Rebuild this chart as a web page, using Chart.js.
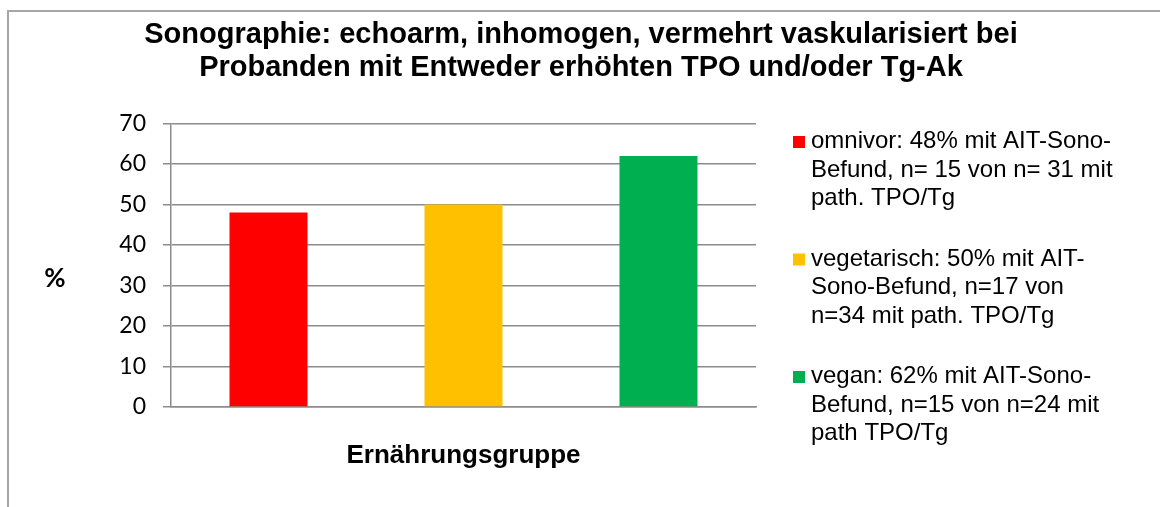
<!DOCTYPE html>
<html>
<head>
<meta charset="utf-8">
<script src="https://cdn.jsdelivr.net/npm/chart.js@4/dist/chart.umd.min.js"></script>
<style>
  html, body { margin: 0; padding: 0; background: #fff; }
  #wrap { position: relative; width: 1160px; height: 507px; overflow: hidden; }
  #frame { position: absolute; left: 7px; top: 10px; width: 1200px; height: 600px;
           border-left: 2px solid #a6a6a6; border-top: 2px solid #a6a6a6; }
  #chart { position: absolute; left: 0; top: 0; }
</style>
</head>
<body>
<div id="wrap">
  <div id="frame"></div>
  <canvas id="chart" width="1160" height="507"></canvas>
</div>
<script>
// DATA
const groups = ['omnivor', 'vegetarisch', 'vegan'];
const percents = [48, 50, 62];
const barColors = ['#ff0000', '#ffc000', '#00b050'];
const legendTexts = [
  ['omnivor: 48% mit AIT-Sono-', 'Befund, n= 15 von n= 31 mit', 'path. TPO/Tg'],
  ['vegetarisch: 50% mit AIT-', 'Sono-Befund, n=17 von', 'n=34 mit path. TPO/Tg'],
  ['vegan: 62% mit AIT-Sono-', 'Befund, n=15 von n=24 mit', 'path TPO/Tg']
];
const titleLines = ['Sonographie: echoarm, inhomogen, vermehrt vaskularisiert bei',
                    'Probanden mit Entweder erhöhten TPO und/oder Tg-Ak'];
const xTitle = 'Ernährungsgruppe';
const yTitle = '%';
const yMin = 0, yMax = 70, yStep = 10;

const ARIAL = '"Liberation Sans", Arial, sans-serif';
const CALI = 'Lato, "Open Sans", sans-serif';

// title, axis titles and the multi-line legend (the built-in ones can't wrap like Excel)
const extras = {
  id: 'extras',
  afterDraw(chart) {
    const c = chart.ctx;
    const area = chart.chartArea;
    c.save();
    c.fillStyle = '#000';
    c.textBaseline = 'alphabetic';

    c.font = 'bold 29px ' + ARIAL;
    c.textAlign = 'center';
    titleLines.forEach((t, i) => c.fillText(t, 581, 43 + i * 32.5));

    c.font = 'bold 26px ' + ARIAL;
    c.fillText(xTitle, (area.left + area.right) / 2, 462.5);

    c.font = 'bold 26px ' + CALI;
    c.textBaseline = 'middle';
    c.fillText(yTitle, 55, 279);

    c.font = '24px ' + ARIAL;
    c.textAlign = 'left';
    c.textBaseline = 'alphabetic';
    chart.data.datasets.forEach((ds, i) => {
      const base = 148 + i * 117.5;
      c.fillStyle = ds.backgroundColor;
      c.fillRect(793, base - 12, 12, 12);
      c.fillStyle = '#000';
      ds.legendLines.forEach((line, j) => c.fillText(line, 811, base + j * 28.7));
    });
    c.restore();
  }
};

new Chart(document.getElementById('chart'), {
  type: 'bar',
  data: {
    labels: [''],
    datasets: groups.map((g, i) => ({
      label: g,
      data: [percents[i]],
      backgroundColor: barColors[i],
      legendLines: legendTexts[i],
      barPercentage: 0.4,
      categoryPercentage: 1
    }))
  },
  options: {
    responsive: false,
    animation: false,
    layout: { padding: { left: 0, right: 404, top: 123.5, bottom: 100 } },
    plugins: {
      legend: { display: false },
      tooltip: { enabled: false },
      title: { display: false }
    },
    scales: {
      x: {
        grid: { display: false, drawTicks: false },
        border: { display: true, color: '#8c8c8c', width: 1.5 },
        ticks: { display: false }
      },
      y: {
        min: yMin, max: yMax,
        afterFit(s) { s.width = 171; },
        grid: { color: '#8c8c8c', lineWidth: 1.5, tickLength: 8 },
        border: { display: true, color: '#8c8c8c', width: 1.5 },
        ticks: {
          stepSize: yStep,
          padding: 17,
          color: '#000',
          font: { family: CALI, size: 23 }
        }
      }
    }
  },
  plugins: [extras]
});
</script>
</body>
</html>
